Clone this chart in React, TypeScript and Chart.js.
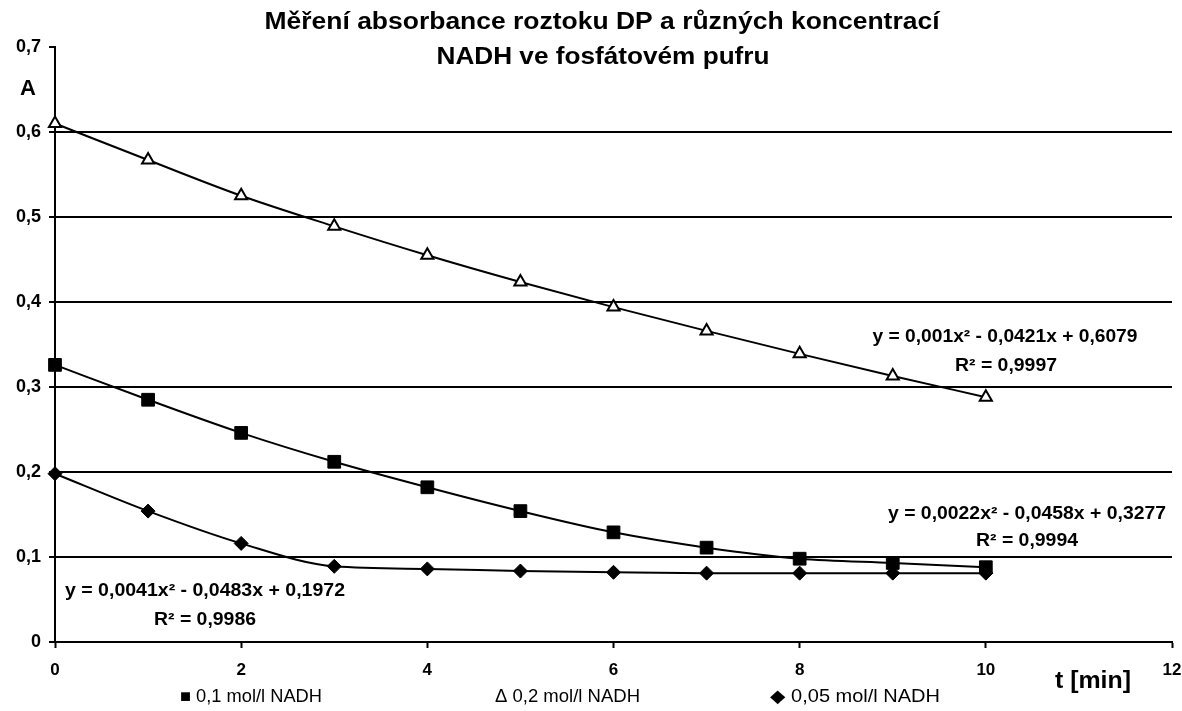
import React, { useEffect, useRef } from "react";
import { Chart, registerables } from "chart.js";

Chart.register(...registerables);

const times = [0, 1, 2, 3, 4, 5, 6, 7, 8, 9, 10];
const abs01 = [0.326, 0.285, 0.246, 0.212, 0.182, 0.154, 0.129, 0.111, 0.098, 0.093, 0.088];
const abs02 = [0.61, 0.567, 0.525, 0.489, 0.455, 0.4235, 0.394, 0.366, 0.339, 0.313, 0.288];
const abs005 = [0.198, 0.154, 0.116, 0.089, 0.086, 0.0835, 0.082, 0.081, 0.081, 0.081, 0.081];
const seriesLabels = ["0,1 mol/l NADH", "0,2 mol/l NADH", "0,05 mol/l NADH"];
const legendSymbols = ["■", "Δ", "◆"];
const titleLines = ["Měření absorbance roztoku DP a různých koncentrací", "NADH ve fosfátovém pufru"];
const eq02 = ["y = 0,001x² - 0,0421x + 0,6079", "R² = 0,9997"];
const eq01 = ["y = 0,0022x² - 0,0458x + 0,3277", "R² = 0,9994"];
const eq005 = ["y = 0,0041x² - 0,0483x + 0,1972", "R² = 0,9986"];
const yAxisTitle = "A";
const xAxisTitle = "t [min]";

const FONT = '"Liberation Sans", Arial, Helvetica, sans-serif';

const pts = (ys: number[]) => times.map((t, i) => ({ x: t, y: ys[i] }));

function fitText(ctx: any, text: string, cx: number, cy: number, width: number) {
  const w = ctx.measureText(text).width;
  const k = width / w;
  ctx.save();
  ctx.translate(cx, cy);
  ctx.scale(k, 1);
  ctx.textAlign = "center";
  ctx.fillText(text, 0, 0);
  ctx.restore();
}

export default function App() {
  const ref = useRef<HTMLCanvasElement>(null);
  useEffect(() => {
    if (!ref.current) return;
    const textPlugin = {
      id: "textPlugin",
      afterDraw(chart: any) {
        const ctx = chart.ctx;
        ctx.save();
        ctx.fillStyle = "#000";
        ctx.textBaseline = "middle";
        // title
        ctx.font = `bold 23px ${FONT}`;
        fitText(ctx, titleLines[0], 602, 23, 675);
        fitText(ctx, titleLines[1], 603, 58, 333);
        // axis titles
        ctx.font = `bold 22px ${FONT}`;
        ctx.textAlign = "left";
        ctx.fillText(yAxisTitle, 20, 89);
        ctx.font = `bold 24px ${FONT}`;
        fitText(ctx, xAxisTitle, 1093, 681, 76);
        // equations
        ctx.font = `bold 18px ${FONT}`;
        fitText(ctx, eq02[0], 1005, 337, 265);
        fitText(ctx, eq02[1], 1006, 366, 102);
        fitText(ctx, eq01[0], 1027, 514, 278);
        fitText(ctx, eq01[1], 1027, 541, 102);
        fitText(ctx, eq005[0], 205, 591, 280);
        fitText(ctx, eq005[1], 205, 620, 102);
        // legend
        ctx.font = `18px ${FONT}`;
        const lx = [180, 495, 770];
        const lw = [142, 145, 170];
        for (let i = 0; i < 3; i++) {
          fitText(ctx, legendSymbols[i] + " " + seriesLabels[i], lx[i] + lw[i] / 2, 697, lw[i]);
        }
        ctx.restore();
      },
    };
    const chart = new Chart(ref.current, {
      type: "line",
      data: {
        datasets: [
          {
            label: seriesLabels[0],
            data: pts(abs01),
            borderColor: "#000",
            backgroundColor: "#000",
            borderWidth: 2,
            pointStyle: "rect",
            pointRadius: 9,
            pointBorderWidth: 1,
            pointBackgroundColor: "#000",
            cubicInterpolationMode: "monotone",
            clip: false,
          },
          {
            label: seriesLabels[1],
            data: pts(abs02),
            borderColor: "#000",
            backgroundColor: "#fff",
            borderWidth: 2,
            pointStyle: "triangle",
            pointRadius: 7,
            pointBorderWidth: 2,
            pointBackgroundColor: "#fff",
            cubicInterpolationMode: "monotone",
            clip: false,
          },
          {
            label: seriesLabels[2],
            data: pts(abs005),
            borderColor: "#000",
            backgroundColor: "#000",
            borderWidth: 2,
            pointStyle: "rectRot",
            pointRadius: 7,
            pointBorderWidth: 1,
            pointBackgroundColor: "#000",
            cubicInterpolationMode: "monotone",
            clip: false,
          },
        ],
      },
      options: {
        animation: false,
        responsive: false,
        maintainAspectRatio: false,
        layout: { padding: { left: 0, right: 1, top: 47, bottom: 0 } },
        plugins: {
          legend: { display: false },
          title: { display: false },
          tooltip: { enabled: false },
        },
        scales: {
          x: {
            type: "linear",
            min: 0,
            max: 12,
            afterFit(s: any) {
              s.height = 69;
              s.paddingRight = 10;
              s.paddingLeft = 0;
            },
            ticks: {
              stepSize: 2,
              color: "#000",
              font: { family: FONT, size: 17, weight: "bold" },
              padding: 12,
            },
            grid: {
              drawOnChartArea: false,
              drawTicks: true,
              tickLength: 6,
              tickColor: "#000",
              tickWidth: 2,
            },
            border: { color: "#000", width: 2 },
          },
          y: {
            min: 0,
            max: 0.7,
            afterFit(s: any) {
              s.width = 55;
              s.paddingTop = 0;
              s.paddingBottom = 0;
            },
            ticks: {
              stepSize: 0.1,
              color: "#000",
              font: { family: FONT, size: 18, weight: "bold" },
              padding: 8,
              callback: (v: any) => (v === 0 ? "0" : Number(v).toFixed(1).replace(".", ",")),
            },
            grid: {
              color: (c: any) => (c.tick && (c.tick.value >= 0.69 || c.tick.value === 0) ? "rgba(0,0,0,0)" : "#000"),
              lineWidth: 2,
              drawTicks: true,
              tickLength: 6,
              tickColor: "#000",
              tickWidth: 2,
            },
            border: { color: "#000", width: 2 },
          },
        },
      },
      plugins: [textPlugin],
    } as any);
    return () => chart.destroy();
  }, []);
  return (
    <div style={{ position: "absolute", left: 0, top: 0, width: 1182, height: 711, background: "#fff" }}>
      <canvas ref={ref} width={1182} height={711} style={{ width: 1182, height: 711 }} />
    </div>
  );
}
